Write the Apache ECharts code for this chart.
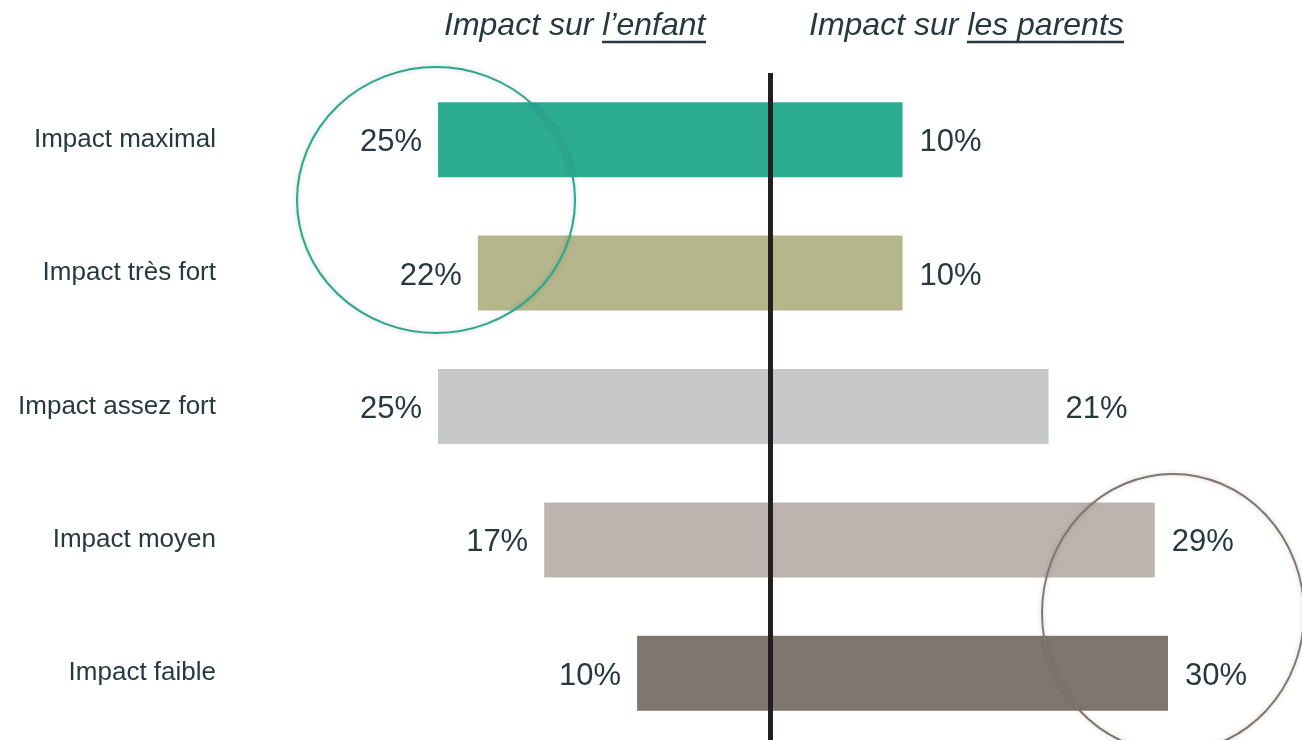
<!DOCTYPE html>
<html>
<head>
<meta charset="utf-8">
<script src="https://cdn.jsdelivr.net/npm/echarts@6/dist/echarts.min.js"></script>
<style>
html,body{margin:0;padding:0;background:#ffffff;}
#chart{width:1302px;height:740px;}
</style>
</head>
<body>
<div id="chart"></div>
<script>
const categories = ['Impact maximal', 'Impact très fort', 'Impact assez fort', 'Impact moyen', 'Impact faible'];
const enfantValues = [25, 22, 25, 17, 10];
const parentsValues = [10, 10, 21, 29, 30];
const barColors = ['#2bac93', '#b3b78b', '#c7c8ca', '#bdb4af', '#7f7670'];
const titleEnfant = ['Impact sur ', 'l\u2019enfant'];
const titleParents = ['Impact sur ', 'les parents'];

const textColor = '#25393f';
const fontFamily = 'Arial, "Liberation Sans", sans-serif';

const chart = echarts.init(document.getElementById('chart'), null, {renderer: 'canvas'});

const option = {
  animation: false,
  backgroundColor: '#ffffff',
  grid: {left: 438, top: 73, height: 671, right: 134, containLabel: false},
  xAxis: {type: 'value', min: -25, max: 30, show: false, splitLine: {show: false}},
  yAxis: {
    type: 'category',
    data: categories,
    inverse: true,
    axisLine: {show: false},
    axisTick: {show: false},
    splitLine: {show: false},
    axisLabel: {margin: 222, fontSize: 26, color: textColor, fontFamily: fontFamily, padding: [3, 0, 0, 0]}
  },
  series: [
    {
      type: 'bar',
      name: 'enfant',
      barWidth: 75,
      barGap: '-100%',
      data: enfantValues.map((v, i) => ({value: -v, itemStyle: {color: barColors[i]}})),
      label: {
        show: true, position: 'left', distance: 16, offset: [0, 3],
        formatter: p => Math.abs(p.value) + '%',
        fontSize: 31, color: textColor, fontFamily: fontFamily
      }
    },
    {
      type: 'bar',
      name: 'parents',
      barWidth: 75,
      barGap: '-100%',
      data: parentsValues.map((v, i) => ({value: v, itemStyle: {color: barColors[i]}})),
      label: {
        show: true, position: 'right', distance: 17, offset: [0, 3],
        formatter: p => p.value + '%',
        fontSize: 31, color: textColor, fontFamily: fontFamily
      },
      markLine: {
        silent: true,
        symbol: ['none', 'none'],
        label: {show: false},
        lineStyle: {color: '#231f20', width: 5, type: 'solid'},
        data: [{xAxis: 0}]
      }
    }
  ],
  graphic: [
    {
      type: 'text', left: 444, top: 10, z: 100,
      style: {
        text: titleEnfant.join(''),
        fontSize: 32, fontStyle: 'italic', fill: textColor, fontFamily: fontFamily
      }
    },
    {
      type: 'text', left: 809, top: 10, z: 100,
      style: {
        text: titleParents.join(''),
        fontSize: 32, fontStyle: 'italic', fill: textColor, fontFamily: fontFamily
      }
    },
    {type: 'line', z: 100, shape: {x1: 602, y1: 42, x2: 706, y2: 42}, style: {stroke: textColor, lineWidth: 2.5}},
    {type: 'line', z: 100, shape: {x1: 967, y1: 42, x2: 1124, y2: 42}, style: {stroke: textColor, lineWidth: 2.5}},
    {
      type: 'circle', z: 100, x: 436, y: 200, scaleX: 139 / 136, scaleY: 133 / 136,
      shape: {cx: 0, cy: 0, r: 136},
      style: {fill: 'none', stroke: '#2aa88f', lineWidth: 2, shadowBlur: 5, shadowColor: 'rgba(0,0,0,0.2)'}
    },
    {
      type: 'circle', z: 100, x: 1173, y: 613, scaleX: 131 / 136, scaleY: 139 / 136,
      shape: {cx: 0, cy: 0, r: 136},
      style: {fill: 'none', stroke: '#7f7670', lineWidth: 2, shadowBlur: 5, shadowColor: 'rgba(0,0,0,0.2)'}
    }
  ]
};
chart.setOption(option);
</script>
</body>
</html>
